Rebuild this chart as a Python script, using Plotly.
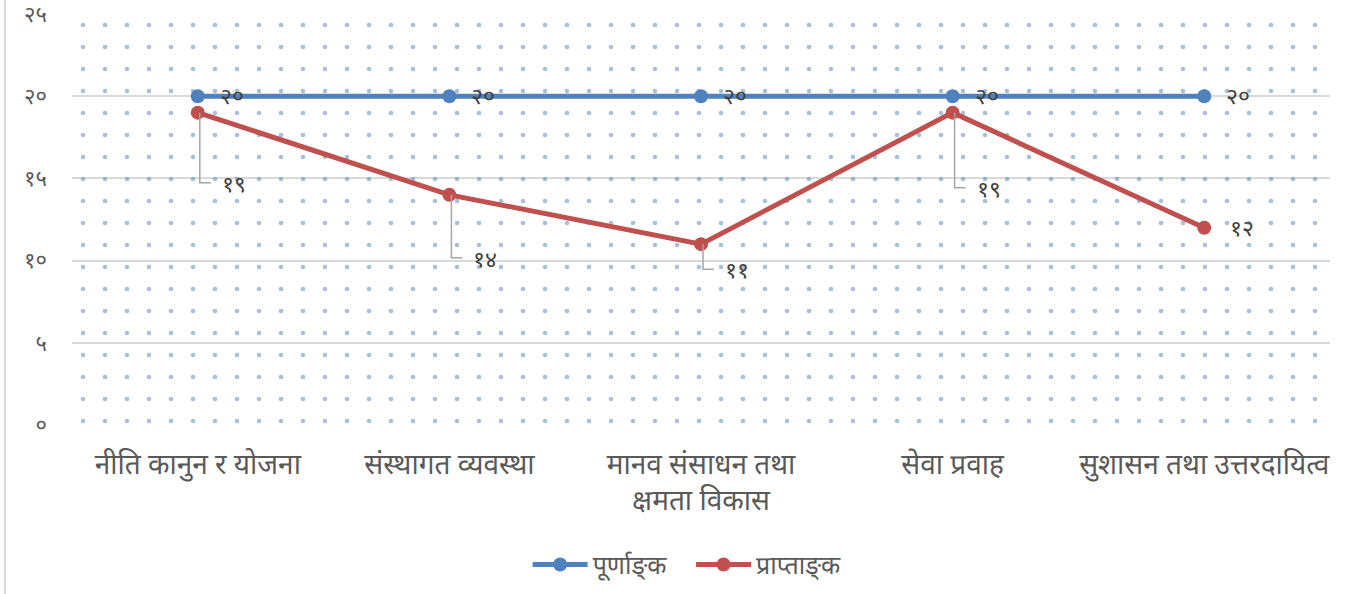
import plotly.graph_objects as go

categories = ["नीति कानुन र योजना", "संस्थागत व्यवस्था", "मानव संसाधन तथा<br>क्षमता विकास",
              "सेवा प्रवाह", "सुशासन तथा उत्तरदायित्व"]
full_marks = [20, 20, 20, 20, 20]
obtained = [19, 14, 11, 19, 12]
series_names = ["पूर्णाङ्\u200cक", "प्राप्ताङ्\u200cक"]
y_tickvals = [0, 5, 10, 15, 20, 25]
y_ticktext = ["०", "५", "१०", "१५", "२०", "२५"]

DEV = str.maketrans("0123456789", "०१२३४५६७८९")
def dev(n):
    return str(n).translate(DEV)

BLUE = "#4F81BD"
RED = "#C0504D"
FONT = "Noto Sans Devanagari, Noto Sans, sans-serif"

fig = go.Figure()
idx = list(range(len(categories)))

# dotted plot-area fill
fig.add_trace(go.Bar(
    x=idx, y=[max(y_tickvals)] * len(idx), width=1,
    marker=dict(color="rgba(0,0,0,0)", line=dict(width=0),
                pattern=dict(shape=".", fgcolor=BLUE, bgcolor="rgba(0,0,0,0)",
                             size=22, solidity=0.035)),
    hoverinfo="skip", showlegend=False))

fig.add_trace(go.Scatter(x=idx, y=full_marks, name=series_names[0] + "\u00a0\u00a0\u00a0", mode="lines+markers",
                         line=dict(color=BLUE, width=5), marker=dict(size=14, color=BLUE)))
fig.add_trace(go.Scatter(x=idx, y=obtained, name=series_names[1], mode="lines+markers",
                         line=dict(color=RED, width=5), marker=dict(size=14, color=RED)))

LBL = dict(family=FONT, size=23, color="#404040")
annotations = []
shapes = []
for i, v in zip(idx, full_marks):
    annotations.append(dict(x=i, y=v, xref="x", yref="y", text=dev(v), showarrow=False,
                            xanchor="left", yanchor="middle", xshift=20, yshift=-2, font=LBL))

# leader offsets (pixels) for obtained labels; 0 means no leader
leader_drop = [70, 63, 25, 75, 0]
for i, v, d in zip(idx, obtained, leader_drop):
    if d:
        shapes.append(dict(type="path", xref="x", yref="y", xsizemode="pixel", ysizemode="pixel",
                           xanchor=i, yanchor=v, path=f"M 2 0 L 2 {-d} L 13 {-d}",
                           line=dict(color="#A6A6A6", width=1.5)))
        annotations.append(dict(x=i, y=v, xref="x", yref="y", text=dev(v), showarrow=False,
                                xanchor="left", yanchor="middle", xshift=22, yshift=-d - 3,
                                font=LBL))
    else:
        annotations.append(dict(x=i, y=v, xref="x", yref="y", text=dev(v), showarrow=False,
                                xanchor="left", yanchor="middle", xshift=24, yshift=-2, font=LBL))

# left chart border
shapes.append(dict(type="line", xref="paper", yref="paper", x0=-0.0533, x1=-0.0533,
                   y0=-0.5, y1=1.1, line=dict(color="#D9D9D9", width=2)))

fig.update_layout(
    width=1350, height=594,
    margin=dict(l=72, r=20, t=14, b=169, autoexpand=False),
    paper_bgcolor="white", plot_bgcolor="white",
    font=dict(family=FONT, color="#595959"),
    xaxis=dict(range=[-0.5, 4.5], tickvals=idx, ticktext=categories, showgrid=False,
               zeroline=False, showline=False, ticks="", automargin=False,
               ticklabelstandoff=20, tickfont=dict(size=28, color="#595959")),
    yaxis=dict(range=[0, 25], tickvals=y_tickvals, ticktext=y_ticktext, showgrid=True,
               gridcolor="#D9D9D9", gridwidth=1.5, zeroline=False, showline=False,
               automargin=False, ticklabelstandoff=24,
               tickfont=dict(size=22, color="#595959")),
    legend=dict(orientation="h", x=0.489, xanchor="center", y=-0.34, yanchor="middle",
                font=dict(size=25, color="#595959"), itemwidth=55, tracegroupgap=0),
    annotations=annotations, shapes=shapes,
    bargap=0, showlegend=True,
)

fig.write_html("out.html", config={"displayModeBar": False},
               post_script="document.body.style.margin='0';document.body.style.overflow='hidden';")
